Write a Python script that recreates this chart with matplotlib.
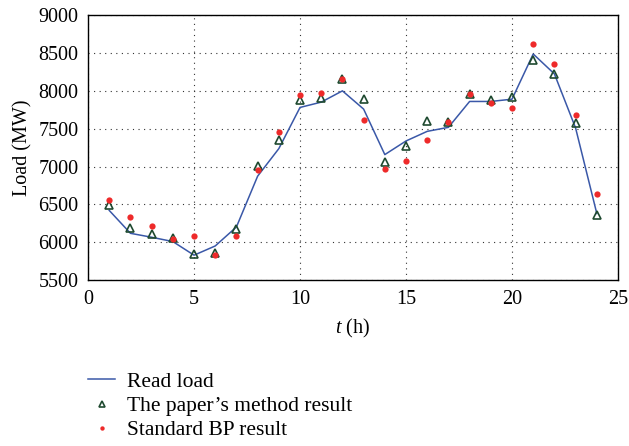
import matplotlib
matplotlib.use("Agg")
import matplotlib.pyplot as plt

# hours of the day
hours = list(range(1, 25))

# real load (MW)
read_load = [6420, 6118, 6066, 6009, 5829, 5951, 6202, 6873, 7237, 7781, 7851, 8000,
             7759, 7158, 7338, 7465, 7518, 7860, 7860, 7890, 8487, 8224, 7509, 6380]

# the paper's method result (MW)
paper_result = [6491, 6193, 6105, 6057, 5842, 5855, 6171, 7004, 7355, 7882, 7912, 8158,
                7890, 7062, 7272, 7596, 7583, 7965, 7873, 7921, 8412, 8228, 7575, 6355]

# standard BP result (MW)
bp_result = [6557, 6333, 6211, 6040, 6079, 5829, 6079, 6956, 7457, 7947, 7974, 8154,
             7614, 6970, 7079, 7346, 7588, 7956, 7833, 7776, 8614, 8360, 7684, 6636]

x_ticks = [0, 5, 10, 15, 20, 25]
y_ticks = [5500, 6000, 6500, 7000, 7500, 8000, 8500, 9000]

plt.rcParams['font.family'] = ['Liberation Serif', 'DejaVu Serif']
plt.rcParams['mathtext.fontset'] = 'custom'
plt.rcParams['mathtext.it'] = 'Liberation Serif:italic'
plt.rcParams['mathtext.rm'] = 'Liberation Serif'

fig = plt.figure(figsize=(6.29, 4.46), dpi=100)
ax = fig.add_axes([0.14, 0.372, 0.8425, 0.594])

ax.plot(hours, read_load, color='#3a58a8', linewidth=1.1, label='Read load')
ax.plot(hours, paper_result, linestyle='none', marker='^', markersize=5.5,
        markerfacecolor='none', markeredgecolor='#1f4a30', markeredgewidth=1.2,
        label='The paper\u2019s method result')
ax.plot(hours, bp_result, linestyle='none', marker='o', markersize=4.5,
        markerfacecolor='#ee2a2a', markeredgecolor='none',
        label='Standard BP result')

ax.set_xlim(0, 25)
ax.set_ylim(5500, 9000)
ax.set_xticks(x_ticks)
ax.set_yticks(y_ticks)
ax.grid(True, linestyle=(0, (1, 4)), color='#333333', linewidth=0.8)
ax.tick_params(direction='in', top=True, right=True, labelsize=14.5, length=0, pad=7)
for sp in ax.spines.values():
    sp.set_linewidth(1.0)

ax.set_xlabel('$t$ (h)', fontsize=14.5, labelpad=6)
ax.set_ylabel('Load (MW)', fontsize=14.5, labelpad=4)

# legend under the axes, no frame
h, l = ax.get_legend_handles_labels()
fig.legend(h, l, loc='upper left', bbox_to_anchor=(0.14, 0.166), frameon=False,
           fontsize=15.5, handlelength=1.25, labelspacing=0.19, borderpad=0,
           borderaxespad=0, handletextpad=0.55, markerscale=0.7)

fig.savefig('out.png', dpi=100)
